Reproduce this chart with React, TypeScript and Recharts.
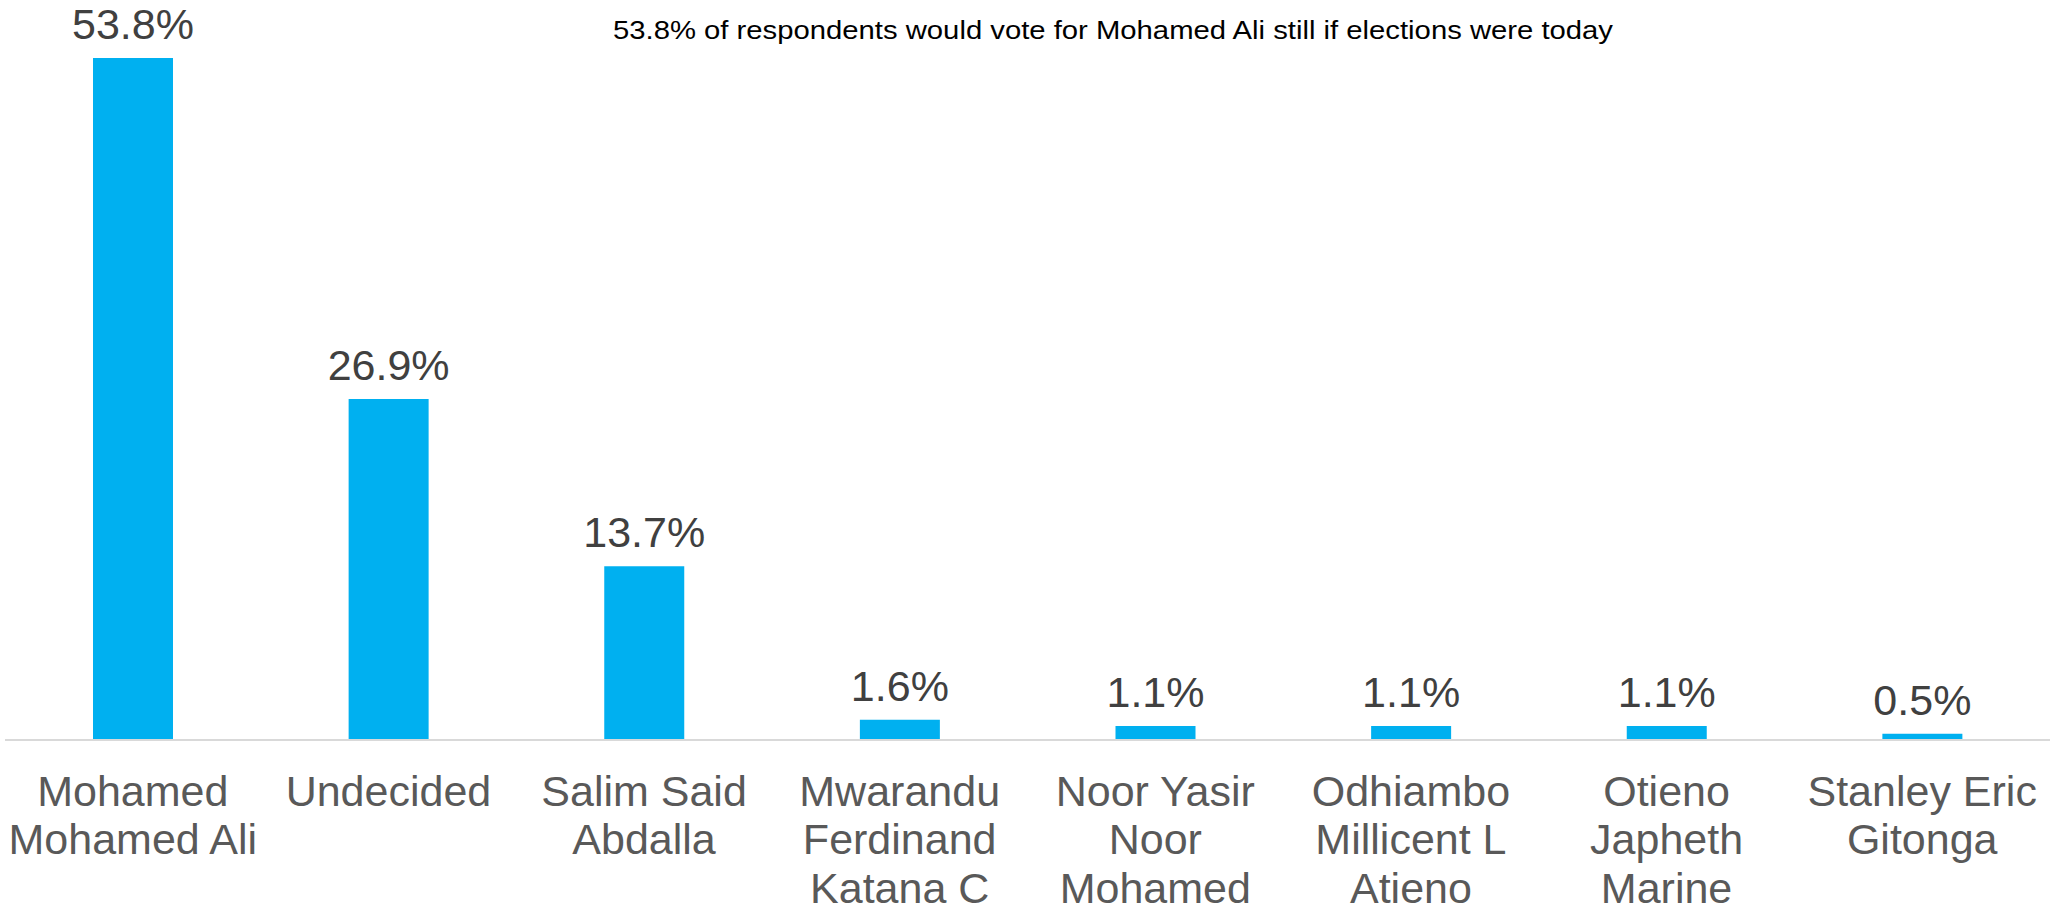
import React from 'react';
import { BarChart, Bar, XAxis, YAxis, LabelList } from 'recharts';

const candidates = [
  'Mohamed Mohamed Ali',
  'Undecided',
  'Salim Said Abdalla',
  'Mwarandu Ferdinand Katana C',
  'Noor Yasir Noor Mohamed',
  'Odhiambo Millicent L Atieno',
  'Otieno Japheth Marine',
  'Stanley Eric Gitonga',
];

// how the names wrap under the axis
const tickLines = [
  ['Mohamed', 'Mohamed Ali'],
  ['Undecided'],
  ['Salim Said', 'Abdalla'],
  ['Mwarandu', 'Ferdinand', 'Katana C'],
  ['Noor Yasir', 'Noor', 'Mohamed'],
  ['Odhiambo', 'Millicent L', 'Atieno'],
  ['Otieno', 'Japheth', 'Marine'],
  ['Stanley Eric', 'Gitonga'],
];

const shares = [53.8, 26.9, 13.7, 1.6, 1.1, 1.1, 1.1, 0.5];

const title = '53.8% of respondents would vote for Mohamed Ali still if elections were today';

const data = candidates.map((name, i) => ({ name, value: shares[i], idx: i }));

const FONT = '"Liberation Sans", Arial, sans-serif';

const NameTick = (props: any) => {
  const { x, y, index } = props;
  const lines = tickLines[index] || [];
  return (
    <text x={x} y={y + 66} textAnchor="middle" fill="#595959" fontSize={43} fontFamily={FONT}>
      {lines.map((l, i) => (
        <tspan key={i} x={x} dy={i === 0 ? 0 : 48.3}>
          {l}
        </tspan>
      ))}
    </text>
  );
};

const App = () => {
  return (
    <div style={{ position: 'absolute', left: 0, top: 0, width: 2050, height: 910, background: '#fff' }}>
      <BarChart
        width={2050}
        height={910}
        data={data}
        margin={{ top: 58, right: 0, bottom: 0, left: 5 }}
        barCategoryGap="34%"
      >
        <XAxis
          dataKey="name"
          height={170}
          interval={0}
          tickLine={false}
          tickSize={0}
          tickMargin={0}
          axisLine={{ stroke: '#D9D9D9', strokeWidth: 2 }}
          tick={<NameTick />}
        />
        <YAxis hide domain={[0, 53.8]} />
        <Bar dataKey="value" fill="#00B0F0" barSize={80} isAnimationActive={false}>
          <LabelList
            dataKey="value"
            position="top"
            offset={19}
            formatter={(v: any) => `${Number(v).toFixed(1)}%`}
            fill="#404040"
            fontSize={43}
            fontFamily={FONT}
          />
        </Bar>
      </BarChart>
      <svg width={2050} height={60} style={{ position: 'absolute', left: 0, top: 0 }}>
        <text
          x={1113}
          y={39}
          textAnchor="middle"
          fontSize={26}
          fontFamily={FONT}
          fill="#000"
          textLength={1000}
          lengthAdjust="spacingAndGlyphs"
        >
          {title}
        </text>
      </svg>
    </div>
  );
};

export default App;
